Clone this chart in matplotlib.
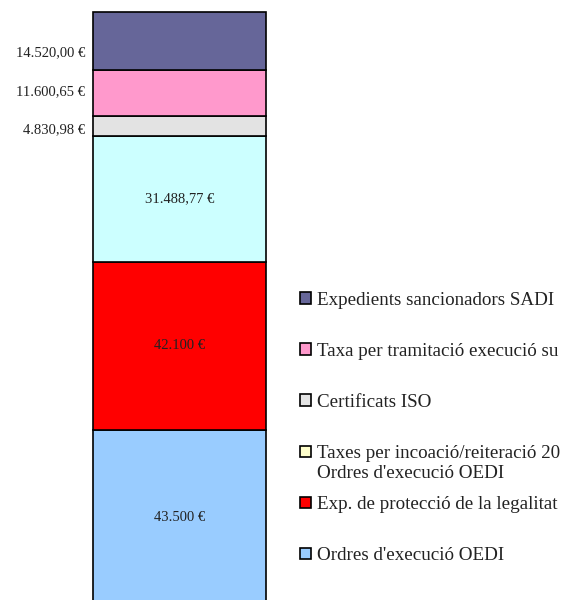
import matplotlib
matplotlib.use("Agg")
import matplotlib.pyplot as plt
from matplotlib.patches import Patch

# Data (bottom to top of the stacked bar)
series = [
    "Ordres d'execució OEDI",
    "Exp. de protecció de la legalitat",
    "Taxes per incoació/reiteració 20\nOrdres d'execució OEDI",
    "Certificats ISO",
    "Taxa per tramitació execució su",
    "Expedients sancionadors SADI",
]
values = [43500.00, 42100.00, 31488.77, 4830.98, 11600.65, 14520.00]
value_labels = ["43.500 €", "42.100 €", "31.488,77 €", "4.830,98 €", "11.600,65 €", "14.520,00 €"]
bar_colors = ["#99CCFF", "#FF0000", "#CCFFFF", "#E3E3E3", "#FF99CC", "#666699"]
legend_colors = ["#99CCFF", "#FF0000", "#FFFFCC", "#E3E3E3", "#FF99CC", "#666699"]
outside = [False, False, False, True, True, True]
label_dy = [0, 0, 0, -2.8, 1.2, -8.4]  # vertical nudges (points) for outside labels

plt.rcParams['font.family'] = ['Liberation Serif', 'DejaVu Serif']

fig = plt.figure(figsize=(5.61, 6.0), dpi=100)
W, H = 561, 600
ax = fig.add_axes([93 / W, (H - 604) / H, 173 / W, 592 / H])

bottom = 0.0
for v, c, lab, out, dy in zip(values, bar_colors, value_labels, outside, label_dy):
    ax.bar(0, v, width=1.0, bottom=bottom, color=c, edgecolor="black",
           linewidth=1.2, clip_on=False)
    mid = bottom + v / 2
    if out:
        ax.annotate(lab, xy=(-0.5, mid), xytext=(-5.5, dy), textcoords="offset points",
                    ha="right", va="center", fontsize=10.5, color="#222222",
                    annotation_clip=False)
    else:
        ax.text(0, mid, lab, ha="center", va="center", fontsize=10.5, color="#222222")
    bottom += v

ax.set_xlim(-0.5, 0.5)
ax.set_ylim(0, sum(values))
ax.axis("off")

# Legend: first line of each label in the legend, continuation lines beneath
first_lines = [s.split("\n")[0] for s in series]
handles = [Patch(facecolor=c, edgecolor="black", linewidth=1.2) for c in legend_colors]
leg = fig.legend(handles[::-1], first_lines[::-1], loc="upper left",
                 bbox_to_anchor=(300 / W, 1 - 292 / H), frameon=False,
                 fontsize=13.7, handlelength=0.58, handleheight=0.58,
                 handletextpad=0.3, labelspacing=1.79, borderpad=0, borderaxespad=0,
                 labelcolor="#222222")

fig.canvas.draw()
for txt, full in zip(leg.get_texts(), series[::-1]):
    extra = full.split("\n")[1:]
    if not extra:
        continue
    x, y = txt.get_transform().transform(txt.get_position())
    for k, line in enumerate(extra, start=1):
        fx, fy = fig.transFigure.inverted().transform((x, y - 19.5 * k))
        fig.text(fx, fy, line, ha="left", va="baseline", fontsize=13.7,
                 color="#222222")

fig.savefig("out.png", dpi=100)
